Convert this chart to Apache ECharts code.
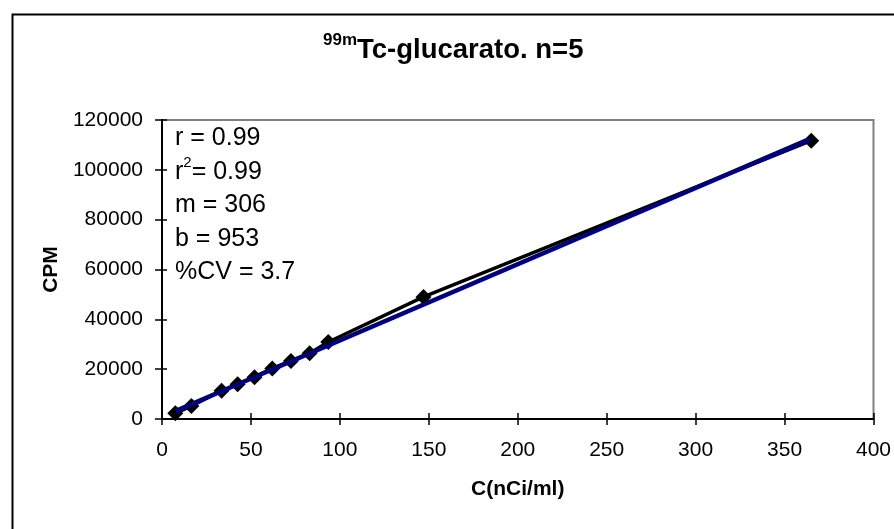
<!DOCTYPE html>
<html>
<head>
<meta charset="utf-8">
<script src="https://cdn.jsdelivr.net/npm/echarts@6/dist/echarts.min.js"></script>
<style>
html,body{margin:0;padding:0;background:#fff;}
#chart{width:894px;height:529px;}
</style>
</head>
<body>
<div id="chart"></div>
<script>
// Data
const concentration = [7.5, 16.5, 33.5, 42.5, 52, 62, 72.5, 83, 93.5, 147, 365];
const cpm = [2300, 5200, 11300, 13900, 16800, 20300, 23300, 26400, 30900, 49000, 111700];
const fitX = [7.5, 364];
const fitY = [3200, 112300];
const xTicks = [0, 50, 100, 150, 200, 250, 300, 350, 400];
const yTicks = [0, 20000, 40000, 60000, 80000, 100000, 120000];
const titleSup = '99m';
const titleMain = 'Tc-glucarato. n=5';
const xName = 'C(nCi/ml)';
const yName = 'CPM';
const statLines = ['r = 0.99', 'r2= 0.99', 'm = 306', 'b = 953', '%CV = 3.7'];

const FONT = 'Arial, "Liberation Sans", sans-serif';
const chart = echarts.init(document.getElementById('chart'), null, {renderer: 'canvas'});

const xMin = xTicks[0], xMax = xTicks[xTicks.length - 1], xInt = xTicks[1] - xTicks[0];
const yMin = yTicks[0], yMax = yTicks[yTicks.length - 1], yInt = yTicks[1] - yTicks[0];

const statRich = statLines.map(function (s) {
  if (s.indexOf('r2') === 0) {
    return '{a|r}{s|2}{a|' + s.slice(2) + '}';
  }
  return '{a|' + s + '}';
}).join('\n');

const baseX = {
  type: 'value', min: xMin, max: xMax, interval: xInt, gridIndex: 0, position: 'bottom',
  splitLine: {show: false}
};
const baseY = {
  type: 'value', min: yMin, max: yMax, interval: yInt, gridIndex: 0, position: 'left',
  splitLine: {show: false}
};

chart.setOption({
  animation: false,
  backgroundColor: '#ffffff',
  grid: {
    left: 162, right: 19, top: 120, bottom: 110,
    show: true, borderColor: '#808080', borderWidth: 2, backgroundColor: 'transparent'
  },
  xAxis: [
    Object.assign({}, baseX, {
      name: xName, nameLocation: 'middle', nameGap: 60,
      nameTextStyle: {fontFamily: FONT, fontSize: 21, fontWeight: 'bold', color: '#000'},
      axisLine: {show: true, lineStyle: {color: '#000', width: 2}},
      axisTick: {show: true, inside: false, length: 6, lineStyle: {color: '#000', width: 1.5}},
      axisLabel: {show: true, margin: 21, fontFamily: FONT, fontSize: 21, color: '#000',
        formatter: function (v) { return String(v); }}
    }),
    Object.assign({}, baseX, {
      axisLine: {show: false},
      axisTick: {show: true, inside: true, length: 6, lineStyle: {color: '#000', width: 1.5}},
      axisLabel: {show: false}
    })
  ],
  yAxis: [
    Object.assign({}, baseY, {
      name: yName, nameLocation: 'middle', nameGap: 96, nameRotate: 90,
      nameTextStyle: {fontFamily: FONT, fontSize: 21, fontWeight: 'bold', color: '#000'},
      axisLine: {show: true, lineStyle: {color: '#000', width: 2}},
      axisTick: {show: true, inside: false, length: 7, lineStyle: {color: '#000', width: 1.5}},
      axisLabel: {show: true, margin: 19, fontFamily: FONT, fontSize: 21, color: '#000',
        formatter: function (v) { return String(v); }}
    }),
    Object.assign({}, baseY, {
      axisLine: {show: false},
      axisTick: {show: true, inside: true, length: 5, lineStyle: {color: '#000', width: 1.5}},
      axisLabel: {show: false}
    })
  ],
  graphic: [
    {
      type: 'rect', left: 10, top: 12, z: 100, silent: true,
      shape: {width: 1000, height: 1000},
      style: {fill: 'none', stroke: '#000', lineWidth: 2}
    },
    {
      type: 'text', left: 323, top: 32, z: 100,
      style: {
        text: '{s|' + titleSup + '}{t|' + titleMain + '}',
        rich: {
          s: {fontFamily: FONT, fontSize: 17, fontWeight: 'bold', fill: '#000', lineHeight: 18, verticalAlign: 'top'},
          t: {fontFamily: FONT, fontSize: 27.5, fontWeight: 'bold', fill: '#000', lineHeight: 36, verticalAlign: 'middle'}
        }
      }
    },
    {
      type: 'text', left: 175, top: 126, z: 100,
      style: {
        text: statRich,
        rich: {
          a: {fontFamily: FONT, fontSize: 25, fill: '#000', lineHeight: 33.5, verticalAlign: 'middle'},
          s: {fontFamily: FONT, fontSize: 15, fill: '#000', lineHeight: 27, verticalAlign: 'top'}
        }
      }
    }
  ],
  series: [
    {
      type: 'line', xAxisIndex: 0, yAxisIndex: 0, z: 3,
      data: concentration.map(function (c, i) { return [c, cpm[i]]; }),
      symbol: 'diamond', symbolSize: 16, showSymbol: true,
      itemStyle: {color: '#000', borderWidth: 0},
      lineStyle: {color: '#000', width: 3.5},
      silent: true
    },
    {
      type: 'line', xAxisIndex: 0, yAxisIndex: 0, z: 4,
      data: fitX.map(function (c, i) { return [c, fitY[i]]; }),
      symbol: 'none', showSymbol: false,
      lineStyle: {color: '#000080', width: 4.5},
      silent: true
    }
  ]
});
</script>
</body>
</html>
